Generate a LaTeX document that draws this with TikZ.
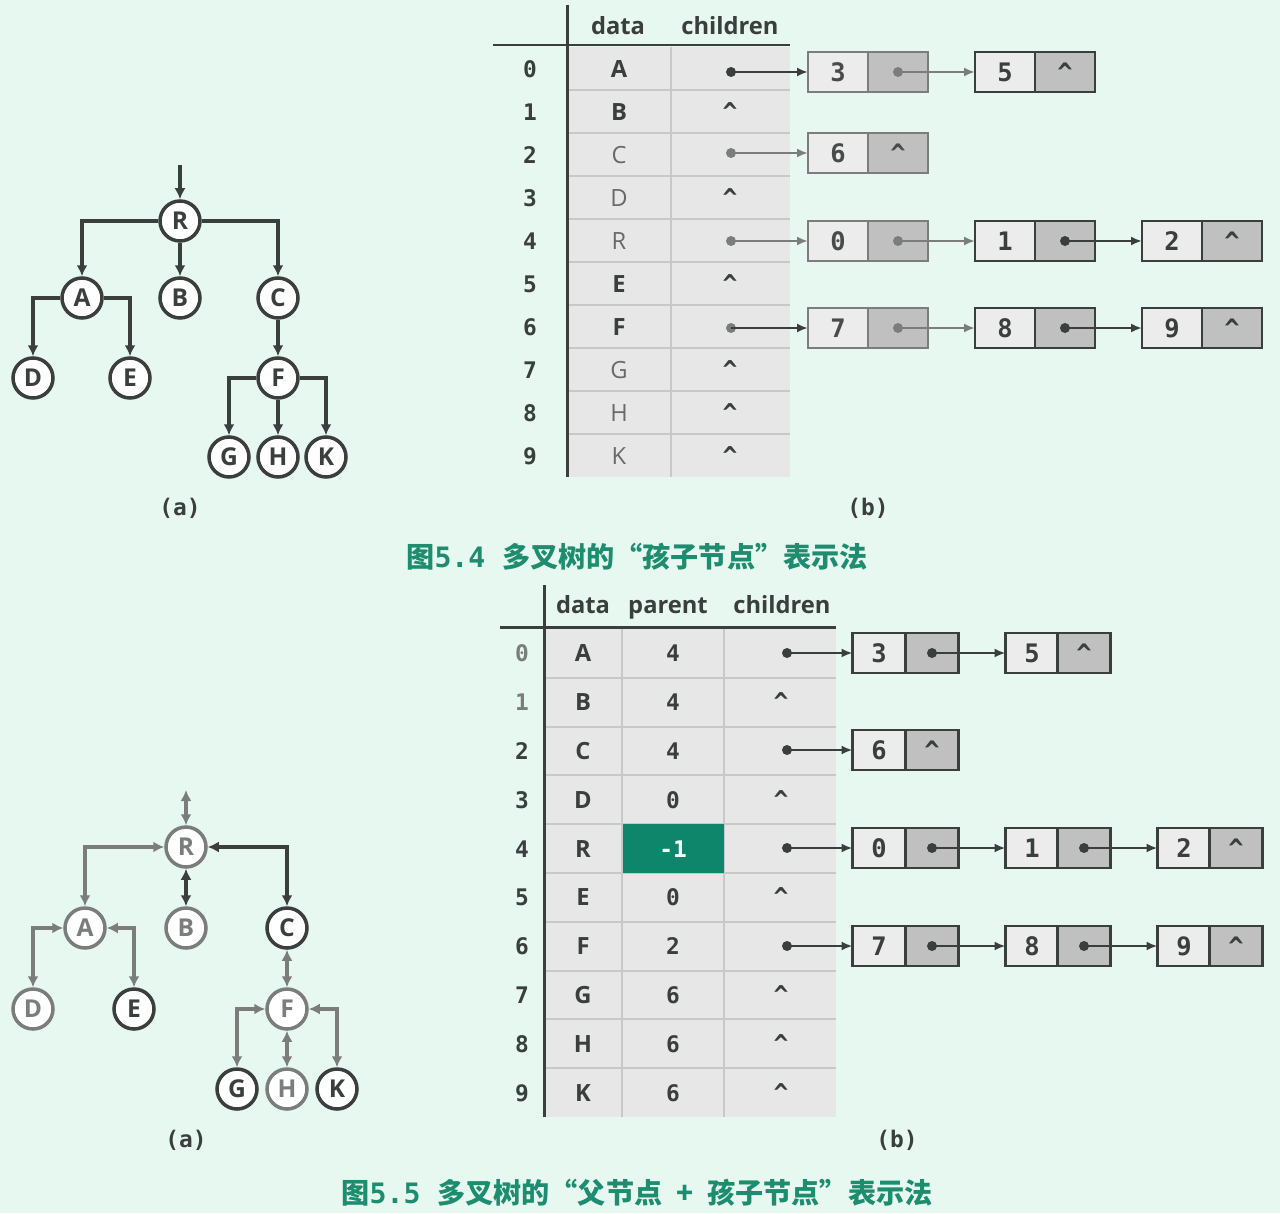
\documentclass[tikz,border=0pt]{standalone}
\usepackage{fontspec}
\setmainfont{Open Sans}
\setmonofont{DejaVu Sans Mono}
\newfontfamily\cjk{Noto Sans CJK SC}
\usetikzlibrary{arrows.meta,positioning}
\definecolor{bgcolor}{RGB}{230,248,240}
\definecolor{linecolor}{RGB}{58,62,60}
\definecolor{fadecolor}{RGB}{122,125,123}
\definecolor{keyfill}{RGB}{236,236,236}
\definecolor{ptrfill}{RGB}{192,192,192}
\definecolor{tablefill}{RGB}{231,231,231}
\definecolor{gridcolor}{RGB}{200,200,200}
\definecolor{tealcolor}{RGB}{14,134,108}
\definecolor{captioncolor}{RGB}{30,140,110}
\newcommand{\nilmark}{\texttt{\bfseries\textasciicircum}}

\begin{document}
\begin{tikzpicture}[x=0.02cm, y=-0.02cm,
  treenode/.style={circle, draw=linecolor, fill=white, line width=2pt, minimum size=0.8cm, inner sep=0pt, text=linecolor, font=\fontsize{14}{14}\selectfont\bfseries},
  fadenode/.style={treenode, draw=fadecolor, text=fadecolor},
  edge/.style={draw=linecolor, line width=2pt, -{Latex[length=0.22cm,width=0.22cm]}},
  fadeedge/.style={edge, draw=fadecolor},
  twoway/.style={edge, {Latex[length=0.22cm,width=0.22cm]}-{Latex[length=0.22cm,width=0.22cm]}},
  fadetwoway/.style={twoway, draw=fadecolor},
  headtext/.style={text=linecolor, text height=11pt, text depth=3pt, font=\fontsize{13.5}{14}\selectfont\bfseries},
  idxtext/.style={text=linecolor, font=\ttfamily\bfseries\fontsize{13}{14}\selectfont},
  celltext/.style={text=linecolor, font=\fontsize{13.5}{14}\selectfont\bfseries},
  fadetext/.style={text=fadecolor!85!black, font=\fontsize{13.5}{14}\selectfont},
  niltext/.style={text=linecolor, font=\fontsize{14}{14}\selectfont},
  keycell/.style={draw=linecolor, fill=keyfill, line width=1.6pt, minimum width=1.2cm, minimum height=0.8cm, inner sep=0pt, outer sep=0pt, text=linecolor, font=\ttfamily\bfseries\fontsize{14.5}{14}\selectfont},
  ptrcell/.style={keycell, fill=ptrfill},
  fadekey/.style={keycell, draw=fadecolor, text=fadecolor!60!black},
  fadeptr/.style={ptrcell, draw=fadecolor, text=fadecolor!60!black},
  ptrdot/.style={circle, fill=linecolor, inner sep=0pt, minimum size=0.2cm},
  fadedot/.style={ptrdot, fill=fadecolor},
  ptr/.style={draw=linecolor, line width=1.4pt, -{Latex[length=0.22cm,width=0.18cm]}},
  fadeptr line/.style={ptr, draw=fadecolor},
  sublabel/.style={text=linecolor, font=\ttfamily\bfseries\fontsize{13}{14}\selectfont},
  caption/.style={text=captioncolor, font=\cjk\bfseries\fontsize{16}{18}\selectfont}
]
  % Background
  \useasboundingbox (0,0) rectangle (1280,1213);
  \fill[bgcolor] (0,0) rectangle (1280,1213);

  % ---------- Figure 5.4 (a): tree ----------
  \node[treenode] (aR) at (180,221) {R};
  \node[treenode] (aA) at (82,298) {A};
  \node[treenode] (aB) at (180,298) {B};
  \node[treenode] (aC) at (278,298) {C};
  \node[treenode] (aD) at (33,378) {D};
  \node[treenode] (aE) at (130,378) {E};
  \node[treenode] (aF) at (278,378) {F};
  \node[treenode] (aG) at (229,457) {G};
  \node[treenode] (aH) at (278,457) {H};
  \node[treenode] (aK) at (326,457) {K};
  \coordinate (aroot) at (180,165);

  \draw[edge] (aroot) -- (aR.north);
  \draw[edge] (aR.west) -| (aA.north);
  \draw[edge] (aR.south) -- (aB.north);
  \draw[edge] (aR.east) -| (aC.north);
  \draw[edge] (aA.west) -| (aD.north);
  \draw[edge] (aA.east) -| (aE.north);
  \draw[edge] (aC.south) -- (aF.north);
  \draw[edge] (aF.west) -| (aG.north);
  \draw[edge] (aF.south) -- (aH.north);
  \draw[edge] (aF.east) -| (aK.north);

  \node[sublabel] (alabel) at (180,508) {(a)};

  % ---------- Figure 5.4 (b): table ----------
  \fill[tablefill] (569,47) rectangle (790,477);
  \draw[gridcolor, line width=0.8pt] (671,47) -- (671,477);
  \draw[gridcolor, line width=0.8pt] (569,90) -- (790,90);
  \draw[gridcolor, line width=0.8pt] (569,133) -- (790,133);
  \draw[gridcolor, line width=0.8pt] (569,176) -- (790,176);
  \draw[gridcolor, line width=0.8pt] (569,219) -- (790,219);
  \draw[gridcolor, line width=0.8pt] (569,262) -- (790,262);
  \draw[gridcolor, line width=0.8pt] (569,305) -- (790,305);
  \draw[gridcolor, line width=0.8pt] (569,348) -- (790,348);
  \draw[gridcolor, line width=0.8pt] (569,391) -- (790,391);
  \draw[gridcolor, line width=0.8pt] (569,434) -- (790,434);
  \draw[linecolor, line width=1.7pt] (567,5) -- (567,477);
  \draw[linecolor, line width=1.7pt] (493,45) -- (790,45);

  \node[headtext] (ahdata) at (618,27) {data};
  \node[headtext] (ahchild) at (730,27) {children};

  % Index column
  \node[idxtext] (ai0) at (530,69) {0};
  \node[idxtext] (ai1) at (530,112) {1};
  \node[idxtext] (ai2) at (530,155) {2};
  \node[idxtext] (ai3) at (530,198) {3};
  \node[idxtext] (ai4) at (530,241) {4};
  \node[idxtext] (ai5) at (530,284) {5};
  \node[idxtext] (ai6) at (530,327) {6};
  \node[idxtext] (ai7) at (530,370) {7};
  \node[idxtext] (ai8) at (530,413) {8};
  \node[idxtext] (ai9) at (530,456) {9};

  % Data column
  \node[celltext] (ad0) at (619,69) {A};
  \node[celltext] (ad1) at (619,112) {B};
  \node[fadetext] (ad2) at (619,155) {C};
  \node[fadetext] (ad3) at (619,198) {D};
  \node[fadetext] (ad4) at (619,241) {R};
  \node[celltext] (ad5) at (619,284) {E};
  \node[celltext] (ad6) at (619,327) {F};
  \node[fadetext] (ad7) at (619,370) {G};
  \node[fadetext] (ad8) at (619,413) {H};
  \node[fadetext] (ad9) at (619,456) {K};

  % Children column
  \node[ptrdot] (ac0) at (731,72) {};
  \node[niltext] (ac1) at (730,112) {\nilmark};
  \node[fadedot] (ac2) at (731,153) {};
  \node[niltext] (ac3) at (730,198) {\nilmark};
  \node[fadedot] (ac4) at (731,241) {};
  \node[niltext] (ac5) at (730,284) {\nilmark};
  \node[fadedot] (ac6) at (731,328) {};
  \node[niltext] (ac7) at (730,370) {\nilmark};
  \node[niltext] (ac8) at (730,413) {\nilmark};
  \node[niltext] (ac9) at (730,456) {\nilmark};

  % Child lists
  \node[fadekey] (ak3) at (838,72) {3};
  \node[fadeptr] (ap3) at (898,72) {};
  \node[keycell] (ak5) at (1005,72) {5};
  \node[ptrcell] (ap5) at (1065,72) {\nilmark};

  \node[fadekey] (ak6) at (838,153) {6};
  \node[fadeptr] (ap6) at (898,153) {\nilmark};

  \node[fadekey] (ak0) at (838,241) {0};
  \node[fadeptr] (ap0) at (898,241) {};
  \node[keycell] (ak1) at (1005,241) {1};
  \node[ptrcell] (ap1) at (1065,241) {};
  \node[keycell] (ak2) at (1172,241) {2};
  \node[ptrcell] (ap2) at (1232,241) {\nilmark};

  \node[fadekey] (ak7) at (838,328) {7};
  \node[fadeptr] (ap7) at (898,328) {};
  \node[keycell] (ak8) at (1005,328) {8};
  \node[ptrcell] (ap8) at (1065,328) {};
  \node[keycell] (ak9) at (1172,328) {9};
  \node[ptrcell] (ap9) at (1232,328) {\nilmark};

  \node[fadedot] (aq3) at (ap3.center) {};
  \node[fadedot] (aq0) at (ap0.center) {};
  \node[ptrdot] (aq1) at (ap1.center) {};
  \node[fadedot] (aq7) at (ap7.center) {};
  \node[ptrdot] (aq8) at (ap8.center) {};

  \draw[ptr] (ac0.center) -- (ak3.west);
  \draw[fadeptr line] (ac2.center) -- (ak6.west);
  \draw[fadeptr line] (ac4.center) -- (ak0.west);
  \draw[ptr] (ac6.center) -- (ak7.west);
  \draw[fadeptr line] (aq3.center) -- (ak5.west);
  \draw[fadeptr line] (aq0.center) -- (ak1.west);
  \draw[ptr] (aq1.center) -- (ak2.west);
  \draw[fadeptr line] (aq7.center) -- (ak8.west);
  \draw[ptr] (aq8.center) -- (ak9.west);

  \node[sublabel] (blabel) at (868,508) {(b)};

  % Caption 5.4
  \node[caption] (cap54) at (637,557) {图\texttt{5.4}\hspace{0.6em}多叉树的“孩子节点”表示法};

  % ---------- Figure 5.5 (a): tree ----------
  \node[fadenode] (bR) at (186,847) {R};
  \node[fadenode] (bA) at (85,928) {A};
  \node[fadenode] (bB) at (186,928) {B};
  \node[treenode] (bC) at (287,928) {C};
  \node[fadenode] (bD) at (33,1009) {D};
  \node[treenode] (bE) at (134,1009) {E};
  \node[fadenode] (bF) at (287,1009) {F};
  \node[treenode] (bG) at (237,1089) {G};
  \node[fadenode] (bH) at (287,1089) {H};
  \node[treenode] (bK) at (337,1089) {K};
  \coordinate (broot) at (186,790);

  \draw[fadetwoway] (broot) -- (bR.north);
  \draw[fadetwoway] (bR.west) -| (bA.north);
  \draw[twoway] (bR.south) -- (bB.north);
  \draw[twoway] (bR.east) -| (bC.north);
  \draw[fadetwoway] (bA.west) -| (bD.north);
  \draw[fadetwoway] (bA.east) -| (bE.north);
  \draw[fadetwoway] (bC.south) -- (bF.north);
  \draw[fadetwoway] (bF.west) -| (bG.north);
  \draw[fadetwoway] (bF.south) -- (bH.north);
  \draw[fadetwoway] (bF.east) -| (bK.north);

  \node[sublabel] (clabel) at (186,1140) {(a)};

  % ---------- Figure 5.5 (b): table ----------
  \fill[tablefill] (546,629) rectangle (836,1117);
  \draw[gridcolor, line width=0.8pt] (622,629) -- (622,1117);
  \draw[gridcolor, line width=0.8pt] (724,629) -- (724,1117);
  \draw[gridcolor, line width=0.8pt] (546,678) -- (836,678);
  \draw[gridcolor, line width=0.8pt] (546,727) -- (836,727);
  \draw[gridcolor, line width=0.8pt] (546,775) -- (836,775);
  \draw[gridcolor, line width=0.8pt] (546,824) -- (836,824);
  \draw[gridcolor, line width=0.8pt] (546,873) -- (836,873);
  \draw[gridcolor, line width=0.8pt] (546,922) -- (836,922);
  \draw[gridcolor, line width=0.8pt] (546,971) -- (836,971);
  \draw[gridcolor, line width=0.8pt] (546,1019) -- (836,1019);
  \draw[gridcolor, line width=0.8pt] (546,1068) -- (836,1068);
  \fill[tealcolor] (623,824) rectangle (724,873);
  \draw[linecolor, line width=1.7pt] (544,585) -- (544,1117);
  \draw[linecolor, line width=1.7pt] (500,627) -- (836,627);

  \node[headtext] (bhdata) at (583,606) {data};
  \node[headtext] (bhparent) at (668,606) {parent};
  \node[headtext] (bhchild) at (782,606) {children};

  % Index column
  \node[idxtext, text=fadecolor] (bi0) at (522,653) {0};
  \node[idxtext, text=fadecolor] (bi1) at (522,702) {1};
  \node[idxtext] (bi2) at (522,751) {2};
  \node[idxtext] (bi3) at (522,800) {3};
  \node[idxtext] (bi4) at (522,849) {4};
  \node[idxtext] (bi5) at (522,897) {5};
  \node[idxtext] (bi6) at (522,946) {6};
  \node[idxtext] (bi7) at (522,995) {7};
  \node[idxtext] (bi8) at (522,1044) {8};
  \node[idxtext] (bi9) at (522,1093) {9};

  % Data column
  \node[celltext] (bd0) at (583,653) {A};
  \node[celltext] (bd1) at (583,702) {B};
  \node[celltext] (bd2) at (583,751) {C};
  \node[celltext] (bd3) at (583,800) {D};
  \node[celltext] (bd4) at (583,849) {R};
  \node[celltext] (bd5) at (583,897) {E};
  \node[celltext] (bd6) at (583,946) {F};
  \node[celltext] (bd7) at (583,995) {G};
  \node[celltext] (bd8) at (583,1044) {H};
  \node[celltext] (bd9) at (583,1093) {K};

  % Parent column
  \node[idxtext] (bp0) at (673,653) {4};
  \node[idxtext] (bp1) at (673,702) {4};
  \node[idxtext] (bp2) at (673,751) {4};
  \node[idxtext] (bp3) at (673,800) {0};
  \node[idxtext, text=white] (bp4) at (673,849) {-1};
  \node[idxtext] (bp5) at (673,897) {0};
  \node[idxtext] (bp6) at (673,946) {2};
  \node[idxtext] (bp7) at (673,995) {6};
  \node[idxtext] (bp8) at (673,1044) {6};
  \node[idxtext] (bp9) at (673,1093) {6};

  % Children column
  \node[ptrdot] (bc0) at (787,653) {};
  \node[niltext] (bc1) at (781,702) {\nilmark};
  \node[ptrdot] (bc2) at (787,750) {};
  \node[niltext] (bc3) at (781,800) {\nilmark};
  \node[ptrdot] (bc4) at (787,848) {};
  \node[niltext] (bc5) at (781,897) {\nilmark};
  \node[ptrdot] (bc6) at (787,946) {};
  \node[niltext] (bc7) at (781,995) {\nilmark};
  \node[niltext] (bc8) at (781,1044) {\nilmark};
  \node[niltext] (bc9) at (781,1093) {\nilmark};

  % Child lists
  \node[keycell, minimum width=1.06cm] (bk3) at (879,653) {3};
  \node[ptrcell, minimum width=1.06cm] (bq3) at (932,653) {};
  \node[keycell, minimum width=1.06cm] (bk5) at (1032,653) {5};
  \node[ptrcell, minimum width=1.06cm] (bq5) at (1084,653) {\nilmark};

  \node[keycell, minimum width=1.06cm] (bk6) at (879,750) {6};
  \node[ptrcell, minimum width=1.06cm] (bq6) at (932,750) {\nilmark};

  \node[keycell, minimum width=1.06cm] (bk0) at (879,848) {0};
  \node[ptrcell, minimum width=1.06cm] (bq0) at (932,848) {};
  \node[keycell, minimum width=1.06cm] (bk1) at (1032,848) {1};
  \node[ptrcell, minimum width=1.06cm] (bq1) at (1084,848) {};
  \node[keycell, minimum width=1.06cm] (bk2) at (1184,848) {2};
  \node[ptrcell, minimum width=1.06cm] (bq2) at (1236,848) {\nilmark};

  \node[keycell, minimum width=1.06cm] (bk7) at (879,946) {7};
  \node[ptrcell, minimum width=1.06cm] (bq7) at (932,946) {};
  \node[keycell, minimum width=1.06cm] (bk8) at (1032,946) {8};
  \node[ptrcell, minimum width=1.06cm] (bq8) at (1084,946) {};
  \node[keycell, minimum width=1.06cm] (bk9) at (1184,946) {9};
  \node[ptrcell, minimum width=1.06cm] (bq9) at (1236,946) {\nilmark};

  \node[ptrdot] (bn3) at (bq3.center) {};
  \node[ptrdot] (bn0) at (bq0.center) {};
  \node[ptrdot] (bn1) at (bq1.center) {};
  \node[ptrdot] (bn7) at (bq7.center) {};
  \node[ptrdot] (bn8) at (bq8.center) {};

  \draw[ptr] (bc0.center) -- (bk3.west);
  \draw[ptr] (bc2.center) -- (bk6.west);
  \draw[ptr] (bc4.center) -- (bk0.west);
  \draw[ptr] (bc6.center) -- (bk7.west);
  \draw[ptr] (bn3.center) -- (bk5.west);
  \draw[ptr] (bn0.center) -- (bk1.west);
  \draw[ptr] (bn1.center) -- (bk2.west);
  \draw[ptr] (bn7.center) -- (bk8.west);
  \draw[ptr] (bn8.center) -- (bk9.west);

  \node[sublabel] (dlabel) at (897,1140) {(b)};

  % Caption 5.5
  \node[caption] (cap55) at (637,1193) {图\texttt{5.5}\hspace{0.6em}多叉树的“父节点\hspace{0.5em}+\hspace{0.5em}孩子节点”表示法};
\end{tikzpicture}
\end{document}
